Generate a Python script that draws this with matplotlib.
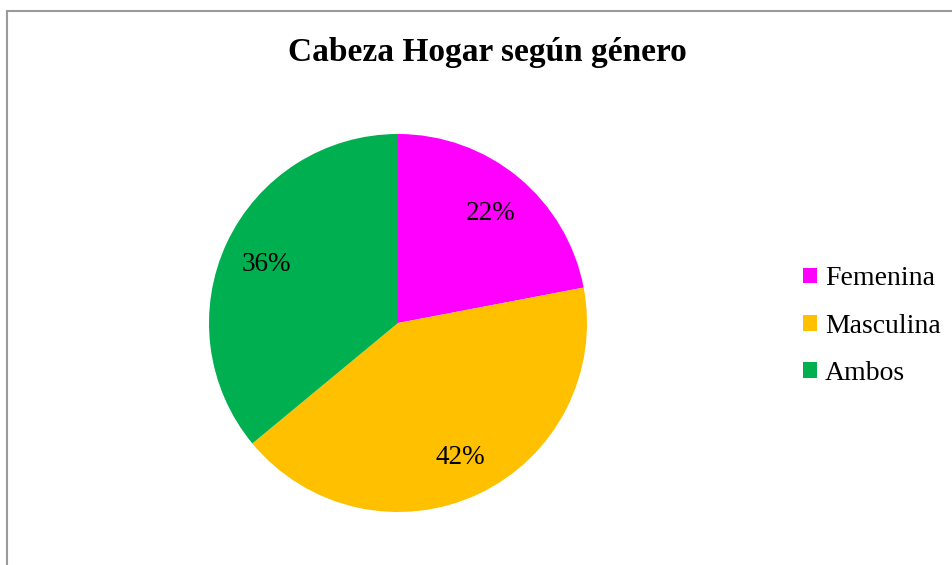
import matplotlib.pyplot as plt
from matplotlib.lines import Line2D
from matplotlib.patches import Patch

plt.rcParams["font.family"] = ["Liberation Serif", "DejaVu Serif"]

# ── Data ───────────────────────────────────────────────────────────────────
labels = ["Femenina", "Masculina", "Ambos"]
shares = [22, 42, 36]
colors = ["#FF00FF", "#FFC000", "#00B050"]

W, H = 953, 565
fig = plt.figure(figsize=(W / 100, H / 100), dpi=100)

# pie area: center (398, 323) px, radius 189 px
cx, cy, r = 398, 323, 189
ax = fig.add_axes([(cx - r) / W, (H - cy - r) / H, 2 * r / W, 2 * r / H])
wedges, _, autotexts = ax.pie(
    shares, colors=colors, startangle=90, counterclock=False,
    autopct="%1.0f%%", pctdistance=0.77, radius=1,
    textprops={"fontsize": 19.5, "color": "black"},
)
for t in autotexts:
    t.set_va("center_baseline")
ax.set_xlim(-1, 1)
ax.set_ylim(-1, 1)
ax.set_aspect("auto")
ax.axis("off")

fig.text(487 / W, 1 - 53 / H, "Cabeza Hogar según género", ha="center", va="center",
         fontsize=24, fontweight="bold")

handles = [Patch(facecolor=c, edgecolor="none") for c in colors]
fig.legend(handles, labels, loc="center left", bbox_to_anchor=(803 / W, (H - 326) / H),
           frameon=False, fontsize=20, handlelength=0.5, handleheight=0.5,
           handletextpad=0.3, labelspacing=0.8, borderpad=0, borderaxespad=0)

# chart frame (only top and left edges visible)
edge = "#9a9a9a"
fig.add_artist(Line2D([7 / W, 7 / W], [0, 1 - 11 / H], color=edge, lw=1.5))
fig.add_artist(Line2D([7 / W, 952 / W], [1 - 11 / H, 1 - 11 / H], color=edge, lw=1.5))

fig.savefig("out.png", dpi=100)
